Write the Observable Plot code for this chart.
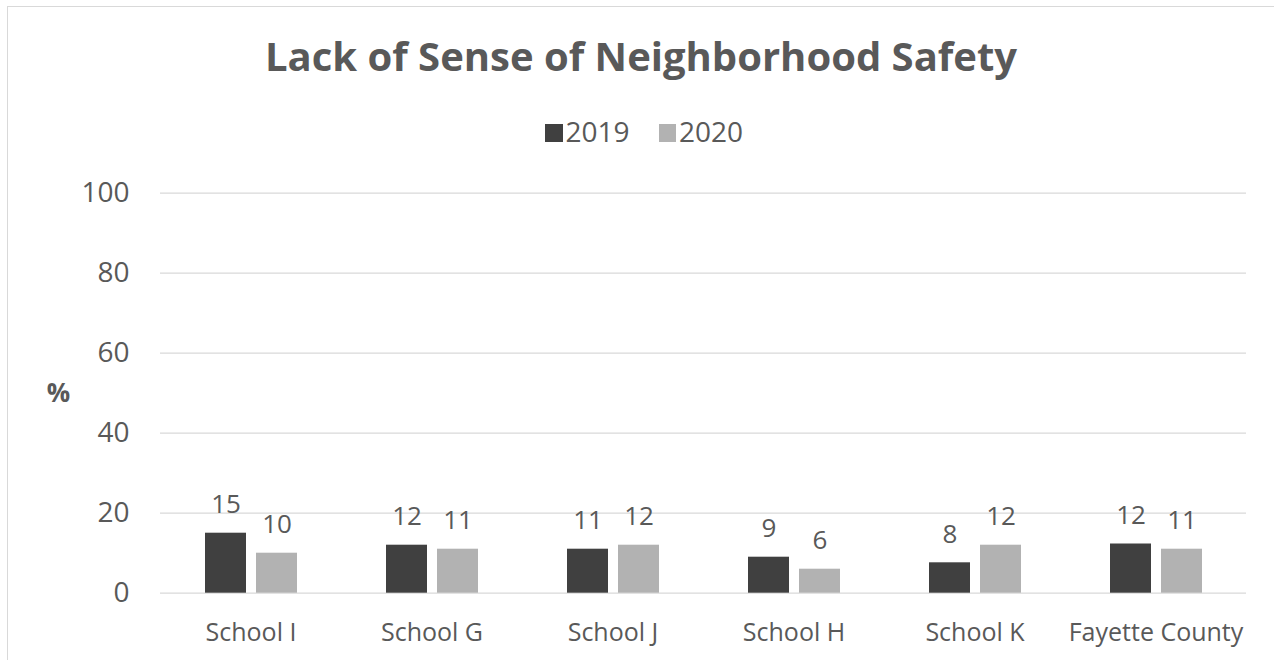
<!DOCTYPE html>
<html>
<head>
<meta charset="utf-8">
<script src="https://cdn.jsdelivr.net/npm/d3@7"></script>
<script src="https://cdn.jsdelivr.net/npm/@observablehq/plot@0.6"></script>
<style>
  html, body { margin: 0; padding: 0; background: #ffffff; }
  #wrap { position: relative; width: 1274px; height: 660px; overflow: hidden; font-family: "Open Sans", sans-serif; color: #595959; }
  #frame { position: absolute; left: 7px; top: 6px; width: 1300px; height: 700px; border-top: 1.5px solid #d9d9d9; border-left: 1.5px solid #d9d9d9; }
  #title { position: absolute; left: 141px; width: 1000px; top: 36px; text-align: center; font-size: 40px; line-height: 40px; font-weight: bold; white-space: nowrap; }
  #legend { position: absolute; left: 545px; top: 117px; height: 28px; display: flex; align-items: center; font-size: 28px; line-height: 28px; }
  .sw { width: 17.5px; height: 17.5px; margin-right: 3px; position: relative; top: 2px; }
  .item { display: flex; align-items: center; margin-right: 29px; }
  #chart { position: absolute; left: 0; top: 160px; }
</style>
</head>
<body>
<div id="wrap">
  <div id="frame"></div>
  <div id="title"></div>
  <div id="legend"></div>
  <div id="chart"></div>
</div>
<script>
const titleText = "Lack of Sense of Neighborhood Safety";
const categories = ["School I", "School G", "School J", "School H", "School K", "Fayette County"];
const years = ["2019", "2020"];
const values2019 = [15, 12, 11, 9, 7.6, 12.3];
const values2020 = [10, 11, 12, 6, 12, 11];
const yTicks = [0, 20, 40, 60, 80, 100];
const yAxisLabel = "%";
const colors = ["#404040", "#b2b2b2"];

const rows = [];
categories.forEach((c, i) => {
  rows.push({category: c, year: years[0], value: values2019[i]});
  rows.push({category: c, year: years[1], value: values2020[i]});
});

document.getElementById("title").textContent = titleText;

const legend = document.getElementById("legend");
years.forEach((y, i) => {
  const item = document.createElement("div");
  item.className = "item";
  const sw = document.createElement("div");
  sw.className = "sw";
  sw.style.background = colors[i];
  const t = document.createElement("span");
  t.textContent = y;
  item.appendChild(sw);
  item.appendChild(t);
  legend.appendChild(item);
});

const fmt = d3.format(".0f");

const chart = Plot.plot({
  width: 1274,
  height: 500,
  marginLeft: 158,
  marginRight: 27,
  marginTop: 32.7,
  marginBottom: 67.3,
  style: {fontFamily: "Open Sans, sans-serif", color: "#595959", background: "transparent", overflow: "visible"},
  fx: {domain: categories, padding: 0, label: null},
  x: {domain: years, axis: null, paddingInner: 0.204, paddingOuter: 0.864},
  y: {domain: [0, 100], axis: null},
  color: {domain: years, range: colors},
  marks: [
    Plot.gridY(yTicks, {stroke: "#d9d9d9", strokeOpacity: 1, strokeWidth: 1.3}),
    Plot.axisY(yTicks, {tickSize: 0, tickPadding: 31, fontSize: 28, label: null, fill: "#595959"}),
    Plot.axisFx({anchor: "bottom", tickSize: 0, tickPadding: 30, fontSize: 25, label: null, fill: "#595959"}),
    Plot.barY(rows, {fx: "category", x: "year", y: "value", fill: "year"}),
    Plot.text(rows, {fx: "category", x: "year", y: "value", text: d => fmt(d.value), lineAnchor: "bottom", dy: -20, fontSize: 26, fill: "#595959"}),
    Plot.text([{c: categories[0], t: yAxisLabel}], {fx: "c", text: "t", frameAnchor: "left", textAnchor: "middle", dx: -102, fontWeight: "bold", fontSize: 26, fill: "#595959"})
  ]
});
document.getElementById("chart").appendChild(chart);
</script>
</body>
</html>
